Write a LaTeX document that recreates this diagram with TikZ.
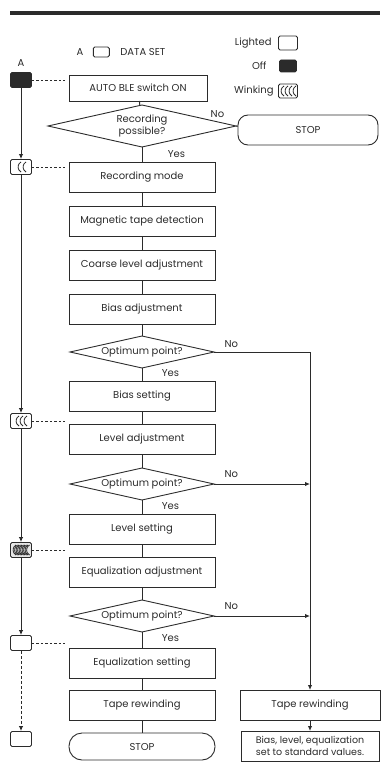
\documentclass[tikz,border=0pt]{standalone}
\usepackage{fontspec}
\setmainfont{Poppins}
\usepackage{tikz}
\usepackage{xcolor}
\usetikzlibrary{arrows.meta, positioning, shapes.geometric}
\definecolor{ink}{HTML}{2B2B2B}

\begin{document}
\begin{tikzpicture}[x=1pt, y=1pt,
  every node/.style={font=\fontsize{10}{11}\selectfont, text=ink},
  proc/.style={rectangle, draw=ink, line width=0.9pt, outer sep=0pt, minimum width=146pt, minimum height=30pt, inner sep=2pt},
  decide/.style={diamond, draw=ink, line width=0.9pt, outer sep=0pt, aspect=4.5, minimum width=144pt, minimum height=32pt, inner sep=0pt},
  term/.style={rectangle, rounded corners=13pt, draw=ink, line width=0.9pt, outer sep=0pt, minimum width=146pt, minimum height=27pt},
  lamp/.style={rectangle, rounded corners=1.5pt, draw=ink, line width=0.9pt, minimum width=21pt, minimum height=15pt, inner sep=0pt},
  off/.style={lamp, fill=ink},
  wink/.style={lamp, path picture={
      \foreach \dx in {#1}
        \draw[ink, line width=0.8pt] ([xshift=\dx pt+2pt, yshift=5pt]path picture bounding box.center)
          arc[start angle=120, end angle=240, radius=5.8pt];}},
  flow/.style={draw=ink, line width=1pt},
  arrow/.style={flow, -{Latex[length=5pt, width=4.5pt]}},
  link/.style={draw=ink, line width=0.7pt, dash pattern=on 2.5pt off 2pt, shorten >=4pt},
  lbl/.style={font=\fontsize{10}{11}\selectfont},
]
\useasboundingbox (0,0) rectangle (380,-770);
\draw[ink, line width=3.5pt] (10,-13) -- (380,-13);

% legend
\node[lbl] (legA) at (80,-52) {A};
\node[lamp, minimum width=16pt, minimum height=10pt, right=6pt of legA] (legBox) {};
\node[lbl, right=7pt of legBox] (legData) {DATA SET};
\node[lamp, minimum width=19pt, minimum height=14pt] (keyLit) at (288,-43) {};
\node[lbl, left=3pt of keyLit] {Lighted};
\node[off, minimum width=17pt, minimum height=12pt] (keyOff) at (288,-66) {};
\node[lbl, left=9pt of keyOff] {Off};
\node[wink={-6,-2,2,6}, minimum width=19pt, minimum height=14pt] (keyWink) at (288,-91) {};
\node[lbl, left=1pt of keyWink] {Winking};

% main column
\node[proc, minimum width=138pt, minimum height=26pt] (ble) at (138,-88) {AUTO BLE switch ON};
\node[decide, minimum width=188pt, minimum height=42pt, align=center, font=\fontsize{10}{11.5}\selectfont] (recok) at (142,-126) {Recording\\possible?};
\node[term, minimum width=140pt, minimum height=30pt, rounded corners=10pt] (stop1) at (308,-130) {STOP};
\node[proc] (recmode) at (142,-177) {Recording mode};
\node[proc, below=14pt of recmode] (tapedet) {Magnetic tape detection};
\node[proc, below=14pt of tapedet]  (coarse)  {Coarse level adjustment};
\node[proc, below=14pt of coarse]   (biasadj) {Bias adjustment};
\node[decide, below=12pt of biasadj] (opt1)   {Optimum point?};
\node[proc, below=13pt of opt1]     (biasset) {Bias setting};
\node[proc, below=13pt of biasset]  (levadj)  {Level adjustment};
\node[decide, below=14pt of levadj]  (opt2)   {Optimum point?};
\node[proc, below=14pt of opt2]     (levset)  {Level setting};
\node[proc, below=13pt of levset]   (eqadj)   {Equalization adjustment};
\node[decide, below=13pt of eqadj]   (opt3)   {Optimum point?};
\node[proc, below=16pt of opt3]     (eqset)   {Equalization setting};
\node[proc, below=12pt of eqset]    (tapewind) {Tape rewinding};
\node[term, below=13pt of tapewind] (stop2)   {STOP};

% right column
\node[proc, minimum width=140pt, right=25pt of tapewind] (rewind) {Tape rewinding};
\node[proc, minimum width=138pt, below=11pt of rewind, align=center, font=\fontsize{9.5}{12}\selectfont] (stdval) {Bias, level, equalization\\set to standard values.};

% lamps
\node[off] (lampA) at (21,-80) {};
\node[lbl, above=2pt of lampA] {A};
\node[wink={-2,3}] (lampW1) at (21,-167) {};
\node[wink={-4,0,4}] (lampW2) at (21,-421) {};
\node[wink={-7,-5.5,-4,-2.5,-1,0.5,2,3.5,5,6.5}, fill=ink!12] (lampW3) at (21,-550) {};
\node[lamp] (lampL) at (21,-643) {};
\node[lamp] (lampEnd) at (21,-739) {};

\draw[arrow] (lampA) -- (lampW1);
\draw[arrow] (lampW1) -- (lampW2);
\draw[arrow] (lampW2) -- (lampW3);
\draw[arrow] (lampW3) -- (lampL);
\draw[arrow, dash pattern=on 3pt off 2pt] (lampL) -- (lampEnd);

\draw[link] (lampA)  -- (lampA -| ble.west);
\draw[link] (lampW1) -- (lampW1 -| recmode.west);
\draw[link] (lampW2) -- (lampW2 -| levadj.west);
\draw[link] (lampW3) -- (lampW3 -| eqadj.west);
\draw[link] (lampL)  -- (lampL -| eqset.west);

% flow
\draw[flow] (ble) -- (recok);
\draw[flow] (recok.east) -- node[lbl, at start, anchor=south east, xshift=-8pt, yshift=5pt] {No} (stop1);
\draw[flow] (recok) -- node[lbl, pos=0.45, right=22pt] {Yes} (recmode);
\draw[flow] (recmode) -- (tapedet) -- (coarse) -- (biasadj) -- (opt1);
\draw[flow] (opt1) -- node[lbl, pos=0.4, right=16pt] {Yes} (biasset);
\draw[flow] (biasset) -- (levadj) -- (opt2);
\draw[flow] (opt2) -- node[lbl, pos=0.4, right=16pt] {Yes} (levset);
\draw[flow] (levset) -- (eqadj) -- (opt3);
\draw[flow] (opt3) -- node[lbl, pos=0.4, right=16pt] {Yes} (eqset);
\draw[flow] (eqset) -- (tapewind) -- (stop2);

\draw[arrow] (opt1.east) -- node[lbl, pos=0.18, above=1pt] {No} (opt1.east -| rewind) -- (rewind);
\draw[arrow] (opt2.east) -- node[lbl, pos=0.18, above=3pt] {No} (opt2.east -| rewind);
\draw[arrow] (opt3.east) -- node[lbl, pos=0.18, above=3pt] {No} (opt3.east -| rewind);
\draw[arrow] (rewind) -- (stdval);
\end{tikzpicture}
\end{document}
